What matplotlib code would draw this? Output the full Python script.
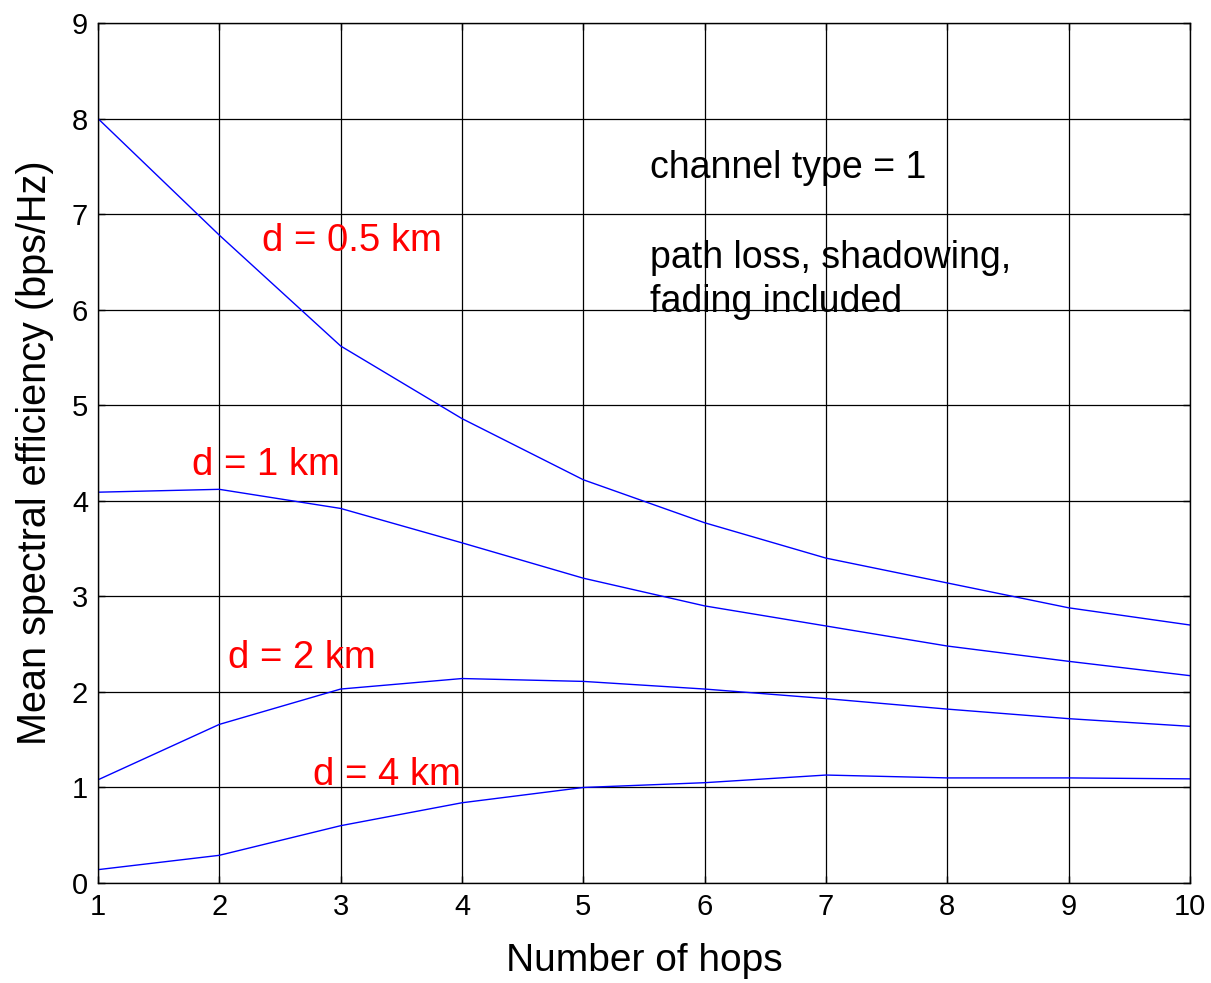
import matplotlib
matplotlib.use("Agg")
import matplotlib.pyplot as plt

plt.rcParams['font.family'] = ['Liberation Sans', 'DejaVu Sans']

# Data
hops = [1, 2, 3, 4, 5, 6, 7, 8, 9, 10]
se_05km = [8.00, 6.78, 5.62, 4.86, 4.22, 3.77, 3.40, 3.14, 2.88, 2.70]
se_1km = [4.09, 4.12, 3.92, 3.56, 3.19, 2.90, 2.69, 2.48, 2.32, 2.17]
se_2km = [1.08, 1.66, 2.03, 2.14, 2.11, 2.03, 1.93, 1.82, 1.72, 1.64]
se_4km = [0.14, 0.29, 0.60, 0.84, 1.00, 1.05, 1.13, 1.10, 1.10, 1.09]

curve_labels = ["d = 0.5 km", "d = 1 km", "d = 2 km", "d = 4 km"]
label_pos = [(2.35, 6.72), (1.775, 4.37), (2.07, 2.35), (2.77, 1.13)]

fig = plt.figure(figsize=(12.11, 9.83), dpi=100)
ax = fig.add_axes([0.0809, 0.1017, 0.9018, 0.8749])

for series in [se_05km, se_1km, se_2km, se_4km]:
    ax.plot(hops, series, color='blue', lw=1.0)

for txt, (x, y) in zip(curve_labels, label_pos):
    ax.text(x, y, txt, color='red', fontsize=27.5, va='center', ha='left')

# annotation block on the right
ax.text(5.55, 7.48, "channel type = 1", fontsize=27, va='center', ha='left')
ax.text(5.55, 6.54, "path loss, shadowing,", fontsize=27, va='center', ha='left')
ax.text(5.55, 6.08, "fading included", fontsize=27, va='center', ha='left')

ax.set_xlim(1, 10)
ax.set_ylim(0, 9)
ax.set_xticks(range(1, 11))
ax.set_yticks(range(0, 10))
ax.grid(True, color='black', lw=0.9)
ax.tick_params(direction='in', length=5, width=1, labelsize=21,
               top=True, right=True)
ax.tick_params(axis='x', pad=7)
ax.tick_params(axis='y', pad=7)
for s in ax.spines.values():
    s.set_linewidth(1.0)

ax.set_xlabel("Number of hops", fontsize=28, labelpad=16)
ax.set_ylabel("Mean spectral efficiency (bps/Hz)", fontsize=28.5, labelpad=13)

fig.savefig("out.png", dpi=100)
